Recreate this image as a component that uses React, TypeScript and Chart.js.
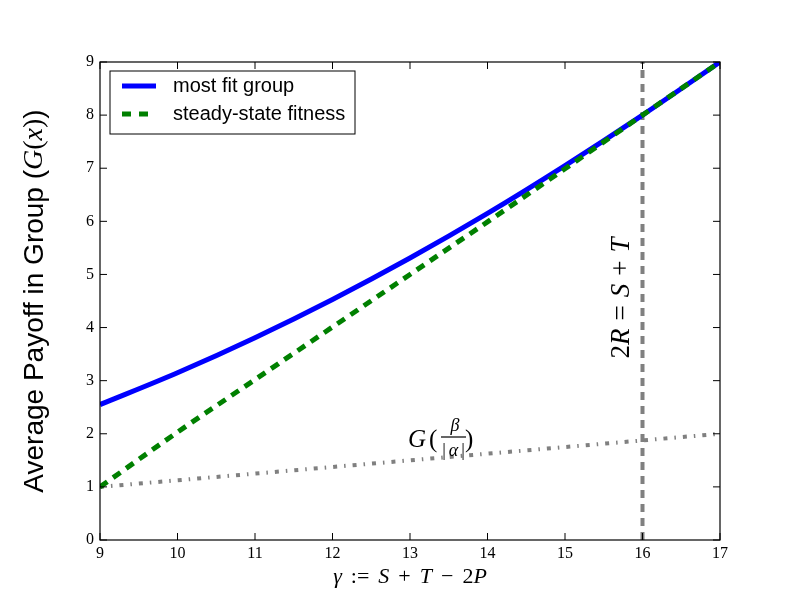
import { useEffect, useRef } from 'react'
import { Chart, registerables } from 'chart.js'
import type { Plugin } from 'chart.js'

Chart.register(...registerables)

// values
const gammaValues = [9, 10, 11, 12, 13, 14, 15, 16, 17]
const mostFitGroup = [2.55, 3.15, 3.81, 4.53, 5.31, 6.15, 7.05, 8.0, 9.0]
const steadyStateFitness = [1.0, 2.03, 3.02, 4.01, 5.0, 5.99, 6.99, 8.0, 9.0]
const baselineGamma = [9, 17]
const baselineValues = [1, 2]
const thresholdGamma = 16
const thresholdRange = [0, 9]
const legendLabels = ['most fit group', 'steady-state fitness']

const SERIF = '"Liberation Serif", "DejaVu Serif", serif'
const SANS = '"Liberation Sans", Arial, sans-serif'

type Seg = { text: string; font: string; gap?: number }

// draw mixed-font text centred on (0,0) of the current transform
function richText(ctx: CanvasRenderingContext2D, segs: Seg[]) {
  let total = 0
  const widths = segs.map(s => {
    ctx.font = s.font
    const w = ctx.measureText(s.text).width + (s.gap || 0)
    total += w
    return w
  })
  let x = -total / 2
  ctx.textBaseline = 'middle'
  ctx.textAlign = 'left'
  segs.forEach((s, i) => {
    ctx.font = s.font
    ctx.fillText(s.text, x, 0)
    x += widths[i]
  })
}

const overlay: Plugin = {
  id: 'overlay',
  afterDraw(chart) {
    const { ctx, chartArea: a, scales } = chart
    const xs = scales.x
    const ys = scales.y
    ctx.save()
    ctx.fillStyle = '#000'
    ctx.strokeStyle = '#000'

    // frame
    ctx.lineWidth = 1.2
    ctx.setLineDash([])
    ctx.strokeRect(a.left, a.top, a.right - a.left, a.bottom - a.top)

    // inward ticks on all sides
    const len = 7
    ctx.lineWidth = 1
    ctx.beginPath()
    xs.ticks.forEach(t => {
      const px = xs.getPixelForValue(t.value)
      ctx.moveTo(px, a.bottom)
      ctx.lineTo(px, a.bottom - len)
      ctx.moveTo(px, a.top)
      ctx.lineTo(px, a.top + len)
    })
    ys.ticks.forEach(t => {
      const py = ys.getPixelForValue(t.value)
      ctx.moveTo(a.left, py)
      ctx.lineTo(a.left + len, py)
      ctx.moveTo(a.right, py)
      ctx.lineTo(a.right - len, py)
    })
    ctx.stroke()

    // legend
    const lx = a.left + 10
    const ly = a.top + 9
    ctx.fillStyle = '#fff'
    ctx.fillRect(lx, ly, 245, 63)
    ctx.lineWidth = 1
    ctx.strokeRect(lx, ly, 245, 63)
    const rows = [
      { color: '#0000ff', dash: [] as number[] },
      { color: '#008000', dash: [9, 8] }
    ]
    rows.forEach((r, i) => {
      const y = ly + 15 + i * 28
      ctx.strokeStyle = r.color
      ctx.lineWidth = 5
      ctx.setLineDash(r.dash)
      ctx.beginPath()
      ctx.moveTo(lx + 12, y)
      ctx.lineTo(lx + 46, y)
      ctx.stroke()
      ctx.setLineDash([])
      ctx.fillStyle = '#000'
      ctx.font = `20px ${SANS}`
      ctx.textAlign = 'left'
      ctx.textBaseline = 'middle'
      ctx.fillText(legendLabels[i], lx + 63, y)
    })

    ctx.fillStyle = '#000'
    const it = (s: number) => `italic ${s}px ${SERIF}`
    const rm = (s: number) => `${s}px ${SERIF}`

    // x axis title
    ctx.save()
    ctx.translate((a.left + a.right) / 2, 577)
    richText(ctx, [
      { text: 'γ', font: it(22), gap: 9 },
      { text: ':=', font: rm(22), gap: 9 },
      { text: 'S', font: it(22), gap: 9 },
      { text: '+', font: rm(22), gap: 9 },
      { text: 'T', font: it(22), gap: 9 },
      { text: '−', font: rm(22), gap: 9 },
      { text: '2', font: rm(22) },
      { text: 'P', font: it(22) }
    ])
    ctx.restore()

    // y axis title
    ctx.save()
    ctx.translate(35, (a.top + a.bottom) / 2)
    ctx.rotate(-Math.PI / 2)
    richText(ctx, [
      { text: 'Average Payoff in Group (', font: `28px ${SANS}` },
      { text: 'G', font: it(28) },
      { text: '(', font: rm(28) },
      { text: 'x', font: it(28) },
      { text: ')', font: rm(28) },
      { text: ')', font: `28px ${SANS}` }
    ])
    ctx.restore()

    // vertical annotation
    ctx.save()
    ctx.translate(xs.getPixelForValue(thresholdGamma) - 21, 298)
    ctx.rotate(-Math.PI / 2)
    richText(ctx, [
      { text: '2', font: rm(27) },
      { text: 'R', font: it(27), gap: 8 },
      { text: '=', font: rm(27), gap: 8 },
      { text: 'S', font: it(27), gap: 8 },
      { text: '+', font: rm(27), gap: 8 },
      { text: 'T', font: it(27) }
    ])
    ctx.restore()

    // G(beta/|alpha|) annotation
    ctx.textBaseline = 'alphabetic'
    ctx.textAlign = 'left'
    ctx.font = it(25)
    ctx.fillText('G', 408, 447)
    ctx.font = rm(25)
    ctx.fillText('(', 429, 447)
    ctx.fillText(')', 465, 447)
    ctx.textAlign = 'center'
    ctx.font = it(18)
    ctx.fillText('β', 455, 431)
    ctx.font = rm(18)
    ctx.fillText('|', 444, 456)
    ctx.fillText('|', 463, 456)
    ctx.font = it(18)
    ctx.fillText('α', 453.5, 456)
    ctx.lineWidth = 1.2
    ctx.strokeStyle = '#000'
    ctx.beginPath()
    ctx.moveTo(441, 437)
    ctx.lineTo(466, 437)
    ctx.stroke()

    ctx.restore()
  }
}

export default function App() {
  const canvasRef = useRef<HTMLCanvasElement>(null)

  useEffect(() => {
    document.body.style.margin = '0'
    if (!canvasRef.current) return
    const chart = new Chart(canvasRef.current, {
      type: 'line',
      data: {
        datasets: [
          {
            label: legendLabels[0],
            data: gammaValues.map((g, i) => ({ x: g, y: mostFitGroup[i] })),
            borderColor: '#0000ff',
            borderWidth: 5,
            pointRadius: 0,
            cubicInterpolationMode: 'monotone',
            order: 2
          },
          {
            label: legendLabels[1],
            data: gammaValues.map((g, i) => ({ x: g, y: steadyStateFitness[i] })),
            borderColor: '#008000',
            borderWidth: 5,
            borderDash: [9, 7],
            pointRadius: 0,
            cubicInterpolationMode: 'monotone',
            order: 1
          },
          {
            label: 'baseline',
            data: baselineGamma.map((g, i) => ({ x: g, y: baselineValues[i] })),
            borderColor: '#808080',
            borderWidth: 4,
            borderDash: [4, 7, 1.5, 7],
            pointRadius: 0,
            order: 3
          },
          {
            label: 'threshold',
            data: thresholdRange.map(v => ({ x: thresholdGamma, y: v })),
            borderColor: '#808080',
            borderWidth: 4,
            borderDash: [8, 6],
            pointRadius: 0,
            order: 4
          }
        ]
      },
      options: {
        animation: false,
        responsive: false,
        layout: { padding: { left: 0, top: 62, right: 80, bottom: 0 } },
        plugins: {
          legend: { display: false },
          tooltip: { enabled: false }
        },
        scales: {
          x: {
            type: 'linear',
            min: 9,
            max: 17,
            ticks: { stepSize: 1, color: '#000', padding: 4, font: { family: SERIF, size: 16 } },
            grid: { display: false, drawTicks: false },
            border: { display: false },
            afterFit: s => { s.height = 60 }
          },
          y: {
            type: 'linear',
            min: 0,
            max: 9,
            ticks: { stepSize: 1, color: '#000', padding: 6, font: { family: SERIF, size: 16 } },
            grid: { display: false, drawTicks: false },
            border: { display: false },
            afterFit: s => { s.width = 100 }
          }
        }
      },
      plugins: [overlay]
    })
    return () => chart.destroy()
  }, [])

  return (
    <div style={{ width: 800, height: 600, background: '#fff' }}>
      <canvas ref={canvasRef} width={800} height={600} />
    </div>
  )
}
